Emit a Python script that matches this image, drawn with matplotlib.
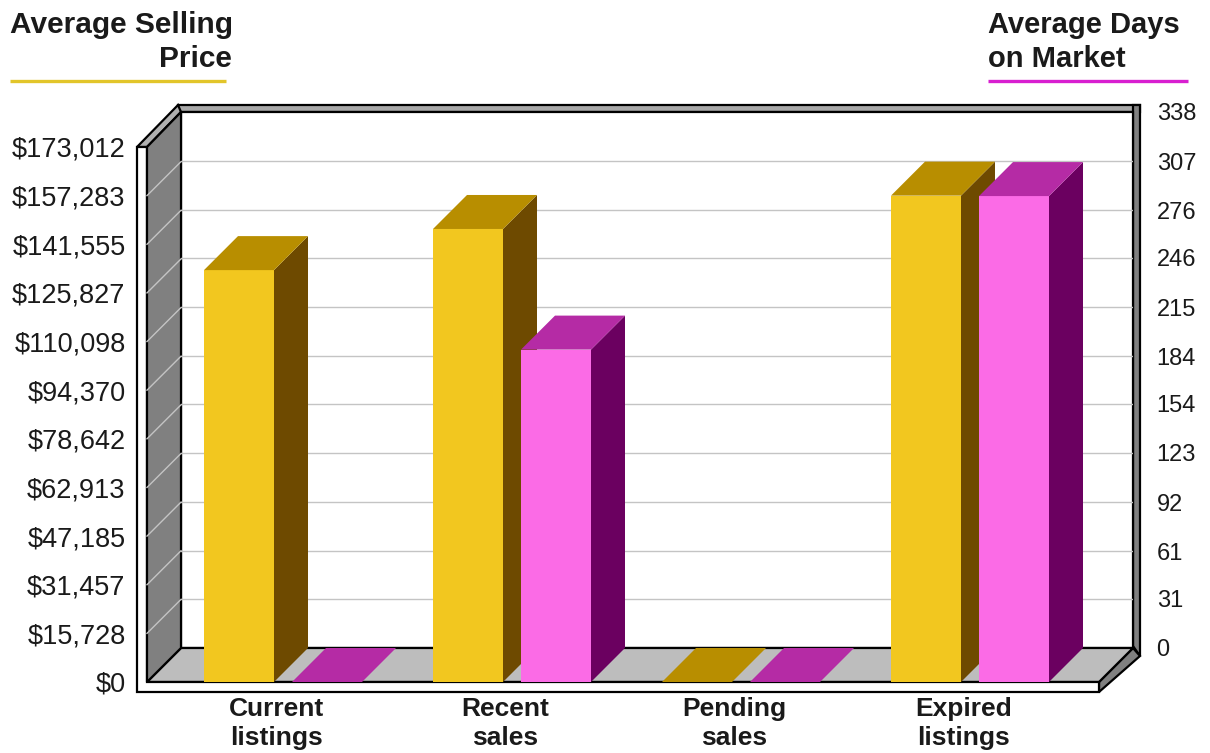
import matplotlib
matplotlib.use('Agg')
from matplotlib import pyplot as plt
from matplotlib.patches import Polygon

plt.rcParams['font.family'] = ['Liberation Sans', 'DejaVu Sans']

categories = ['Current\nlistings', 'Recent\nsales', 'Pending\nsales', 'Expired\nlistings']
price_values = [133200, 146500, 0, 157283]
days_values = [0, 210, 0, 307]
price_ticks = [0, 15728, 31457, 47185, 62913, 78642, 94370, 110098, 125827, 141555, 157283, 173012]
days_ticks = [0, 31, 61, 92, 123, 154, 184, 215, 246, 276, 307, 338]

W, H = 1210, 753
# plot box in pixels: front plane and back wall
FL, FR, FB, FT = 147, 1099, 682, 147
D = 34
BL, BR, BB, BT = FL + D, FR + D, FB - D, FT - D - 1
PITCH = 229.0
X0 = 283.0
BAR_W = 70 / PITCH
GAP = 18 / PITCH


def rect(x0, y0, x1, y1):
    return [x0 / W, 1 - y1 / H, (x1 - x0) / W, (y1 - y0) / H]


fig = plt.figure(figsize=(12.1, 7.53), dpi=100)

# frame, floor, walls in pixel units
deco = fig.add_axes([0, 0, 1, 1], zorder=0)
deco.set_xlim(0, W)
deco.set_ylim(H, 0)
deco.axis('off')


def poly(pts, fc, ec='black', lw=1.6):
    deco.add_patch(Polygon(pts, closed=True, fc=fc, ec=ec, lw=lw, joinstyle='miter'))


poly([(BL - 3, 105), (1140, 105), (1140, 112), (BL - 3, 112)], '#A8A8A8')
poly([(BR, 105), (1140, 105), (1140, 656), (BR, 646)], '#808080')
poly([(FL - 10, FT), (BL - 3, 105), (BL, BT), (FL, FT)], '#B0B0B0')
poly([(FR, 692), (FR, FB), (BR, BB), (1140, 656)], '#808080')
poly([(BL, BT), (BR, BT), (BR, BB), (BL, BB)], 'white')
poly([(FL, FB), (FR, FB), (BR, BB), (BL, BB)], '#BDBDBD')
poly([(FL - 10, FT), (FL, FT), (FL, FB), (FR, FB), (FR, 692), (FL - 10, 692)], 'white')
poly([(FL, FT), (BL, BT), (BL, BB), (FL, FB)], '#808080')
for i in range(1, len(price_ticks) - 1):
    yy = FB - i * (FB - FT) / (len(price_ticks) - 1)
    deco.plot([FL, BL], [yy, yy - D], color='#C4C4C4', lw=1)

# titles and their underlines
deco.text(10, 25, 'Average Selling', fontsize=21.5, fontweight='bold', color='#1a1a1a', ha='left', va='center')
deco.text(232, 59, 'Price', fontsize=21.5, fontweight='bold', color='#1a1a1a', ha='right', va='center')
deco.text(988, 25, 'Average Days', fontsize=21, fontweight='bold', color='#1a1a1a', ha='left', va='center')
deco.text(988, 59, 'on Market', fontsize=21, fontweight='bold', color='#1a1a1a', ha='left', va='center')
deco.plot([10, 226], [81, 81], color='#E2C52A', lw=2.4, solid_capstyle='butt')
deco.plot([988, 1188], [81, 81], color='#D81FD0', lw=2.4, solid_capstyle='butt')

xlim = ((FL - X0) / PITCH, (FR - X0) / PITCH)

# back wall: gridlines and right hand scale
wall = fig.add_axes(rect(BL, BT, BR, BB), zorder=1)
wall.patch.set_alpha(0)
wall.set_xlim(0, 1)
wall.set_ylim(0, days_ticks[-1])
for s in wall.spines.values():
    s.set_visible(False)
wall.set_xticks([])
wall.yaxis.tick_right()
wall.set_yticks(days_ticks)
wall.tick_params(axis='y', length=0, pad=17, labelsize=17, labelcolor='#1a1a1a')
for t in days_ticks[1:-1]:
    wall.axhline(t, color='#C4C4C4', lw=1)

# front plane: price scale and gold bars
ax = fig.add_axes(rect(FL, FT, FR, FB), zorder=2)
ax.patch.set_alpha(0)
ax.set_xlim(*xlim)
ax.set_ylim(0, price_ticks[-1])
for s in ax.spines.values():
    s.set_visible(False)
ax.set_yticks(price_ticks)
ax.set_yticklabels(['${:,}'.format(t) for t in price_ticks])
ax.set_xticks([i - 0.03 for i in range(len(categories))])
ax.set_xticklabels(categories, fontweight='bold', linespacing=1.3)
ax.tick_params(axis='y', length=0, pad=15.5, labelsize=19.5, labelcolor='#1a1a1a')
ax.tick_params(axis='x', length=0, pad=10.5, labelsize=19, labelcolor='#1a1a1a')

# pink bars share the front plane on the days scale
ax2 = fig.add_axes(rect(FL, FT, FR, FB), zorder=3)
ax2.patch.set_alpha(0)
ax2.set_xlim(*xlim)
ax2.set_ylim(0, days_ticks[-1])
ax2.axis('off')


def bar3d(a, x, h, ymax, front, top, side):
    dx = D / PITCH
    dy = D / (FB - FT) * ymax
    x1 = x + BAR_W
    if h > 0:
        a.bar(x, h, width=BAR_W, align='edge', color=front, lw=0)
        a.add_patch(Polygon([(x1, 0), (x1 + dx, dy), (x1 + dx, h + dy), (x1, h)], fc=side, lw=0))
    a.add_patch(Polygon([(x, h), (x1, h), (x1 + dx, h + dy), (x + dx, h + dy)], fc=top, lw=0))


for i in range(len(categories)):
    left = i - BAR_W - GAP / 2
    right = i + GAP / 2
    bar3d(ax, left, price_values[i], price_ticks[-1], '#F2C71F', '#B88E00', '#6E4A00')
    bar3d(ax2, right, days_values[i], days_ticks[-1], '#FB6BE6', '#B52BA5', '#6B0060')

plt.savefig('out.png', dpi=100)
